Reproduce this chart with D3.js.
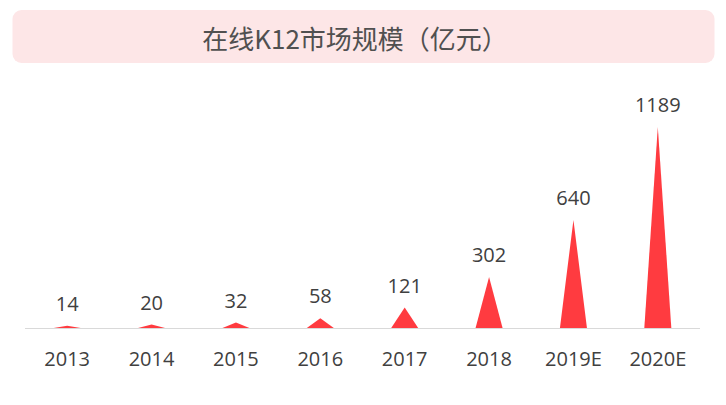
<!DOCTYPE html>
<html><head><meta charset="utf-8">
<script src="https://cdn.jsdelivr.net/npm/d3@7/dist/d3.min.js"></script>
<style>html,body{margin:0;padding:0;background:#fff;}</style>
</head><body>
<svg id="c" width="726" height="405"></svg>
<script>
const title = "在线K12市场规模（亿元）";
const categories = ["2013","2014","2015","2016","2017","2018","2019E","2020E"];
const values = [14,20,32,58,121,302,640,1189];

const svg = d3.select("#c");
const baseY = 328;

svg.append("rect").attr("x",12.5).attr("y",10).attr("width",702).attr("height",53)
  .attr("rx",9).attr("fill","#fde6e7");
svg.append("text").attr("x",355).attr("y",37).attr("text-anchor","middle")
  .attr("dominant-baseline","central")
  .attr("font-family","'Noto Sans CJK SC', sans-serif").attr("font-size",26)
  .attr("fill","#505050").text(title);

const x = d3.scaleBand().domain(categories).range([25,700]).padding(0);
const y = d3.scaleLinear().domain([0,1189]).range([baseY,127]);

const triW = x.bandwidth()*0.32;
const g = svg.append("g");
g.selectAll("path.tri").data(categories).join("path")
  .attr("fill","#ff3b40")
  .attr("d",(c,i)=>{
    const cx = x(c)+x.bandwidth()/2;
    return `M${cx-triW/2},${baseY}L${cx},${y(values[i])}L${cx+triW/2},${baseY}Z`;
  });

svg.append("line").attr("x1",25).attr("x2",700).attr("y1",baseY+0.5).attr("y2",baseY+0.5)
  .attr("stroke","#d9d9d9").attr("stroke-width",1);

const axis = d3.axisBottom(x).tickSize(0).tickPadding(0);
const ag = svg.append("g").attr("transform",`translate(0,${baseY})`).call(axis);
ag.select(".domain").remove();
ag.selectAll("text").attr("font-family","'Open Sans', sans-serif").attr("font-size",20)
  .attr("fill","#404040").attr("dy",null).attr("y",38);

g.selectAll("text.v").data(categories).join("text")
  .attr("x",c=>x(c)+x.bandwidth()/2)
  .attr("y",(c,i)=>y(values[i])-15)
  .attr("text-anchor","middle")
  .attr("font-family","'Open Sans', sans-serif").attr("font-size",20)
  .attr("fill","#404040").text((c,i)=>values[i]);
</script>
</body></html>
